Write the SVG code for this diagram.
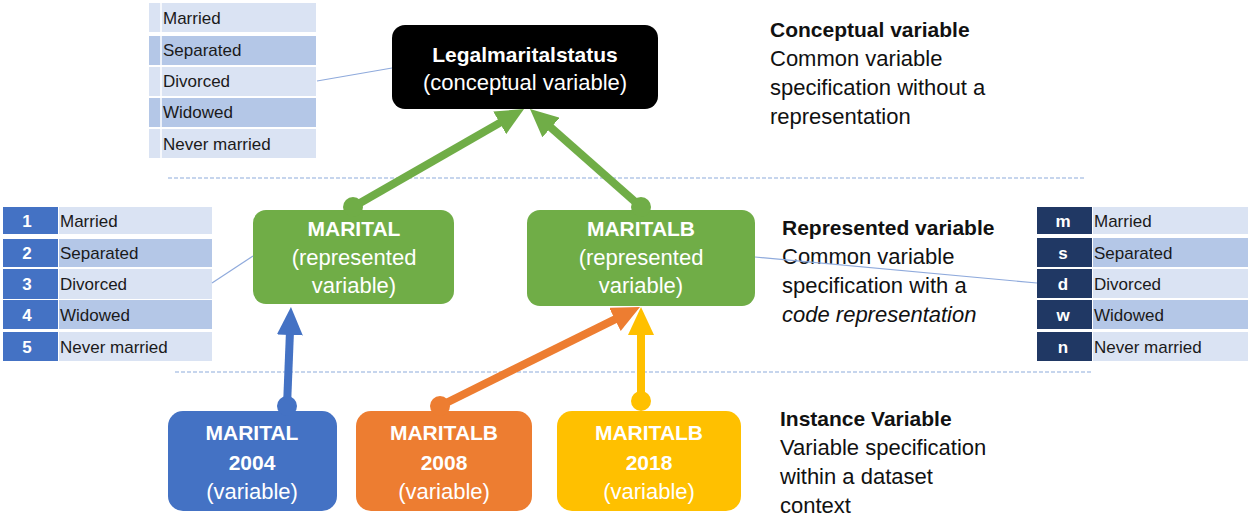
<svg xmlns="http://www.w3.org/2000/svg" width="1248" height="518" viewBox="0 0 1248 518">
  <style>
    .t { font-family: "Liberation Sans", Arial, sans-serif; }
    .cell-l { fill: #DAE3F3; }
    .cell-d { fill: #B4C7E7; }
    .code-b { fill: #4472C4; }
    .code-n { fill: #203864; }
    .cell-txt { font-family: "Liberation Sans", Arial, sans-serif; font-size: 17px; fill: #1a1a1a; }
    .code-txt { font-family: "Liberation Sans", Arial, sans-serif; font-size: 17px; font-weight: bold; fill: #ffffff; text-anchor: middle; }
    .box-txt { font-family: "Liberation Sans", Arial, sans-serif; font-size: 22px; fill: #ffffff; text-anchor: middle; }
    .b { font-weight: bold; font-size: 21px; }
    .side { font-family: "Liberation Sans", Arial, sans-serif; font-size: 22px; fill: #111111; }
    .side-h { font-size: 21px; font-weight: bold; }
    .link { stroke: #8FAADC; stroke-width: 1.2; fill: none; }
    .divider { stroke: #B4C7E7; stroke-width: 1.6; stroke-dasharray: 4 2; fill: none; }
    .arr { stroke-width: 8; fill: none; }
  </style>
  <defs>
    <marker id="head-green" viewBox="0 0 28 26" refX="4" refY="13" markerWidth="28" markerHeight="26" markerUnits="userSpaceOnUse" orient="auto">
      <path d="M0,0 L28,13 L0,26 z" fill="#70AD47"/>
    </marker>
    <marker id="head-blue" viewBox="0 0 28 26" refX="4" refY="13" markerWidth="28" markerHeight="26" markerUnits="userSpaceOnUse" orient="auto">
      <path d="M0,0 L28,13 L0,26 z" fill="#4472C4"/>
    </marker>
    <marker id="head-orange" viewBox="0 0 28 26" refX="4" refY="13" markerWidth="28" markerHeight="26" markerUnits="userSpaceOnUse" orient="auto">
      <path d="M0,0 L28,13 L0,26 z" fill="#ED7D31"/>
    </marker>
    <marker id="head-yellow" viewBox="0 0 28 26" refX="4" refY="13" markerWidth="28" markerHeight="26" markerUnits="userSpaceOnUse" orient="auto">
      <path d="M0,0 L28,13 L0,26 z" fill="#FFC000"/>
    </marker>
  </defs>

  <rect width="1248" height="518" fill="#ffffff"/>

  <!-- level dividers -->
  <line class="divider" x1="168" y1="178" x2="1085" y2="178"/>
  <line class="divider" x1="175" y1="372" x2="1092" y2="372"/>

  <!-- category list of the conceptual variable -->
  <g id="categories-conceptual">
    <rect class="cell-l" x="149" y="3" width="167" height="29"/>
    <rect class="cell-d" x="149" y="36" width="167" height="29"/>
    <rect class="cell-l" x="149" y="67" width="167" height="29"/>
    <rect class="cell-d" x="149" y="98" width="167" height="29"/>
    <rect class="cell-l" x="149" y="129" width="167" height="29"/>
    <g stroke="#ffffff" stroke-width="1.5">
      <line x1="161" y1="3" x2="161" y2="158"/>
    </g>
    <text class="cell-txt" x="163" y="24">Married</text>
    <text class="cell-txt" x="163" y="56">Separated</text>
    <text class="cell-txt" x="163" y="87">Divorced</text>
    <text class="cell-txt" x="163" y="118">Widowed</text>
    <text class="cell-txt" x="163" y="150">Never married</text>
  </g>

  <!-- numeric code list -->
  <g id="codes-numeric">
    <rect class="cell-l" x="59" y="207" width="153" height="27"/>
    <rect class="cell-d" x="59" y="239" width="153" height="28"/>
    <rect class="cell-l" x="59" y="269" width="153" height="30"/>
    <rect class="cell-d" x="59" y="300" width="153" height="29"/>
    <rect class="cell-l" x="59" y="332" width="153" height="29"/>
    <rect class="code-b" x="3" y="207" width="55" height="27"/>
    <rect class="code-b" x="3" y="239" width="55" height="28"/>
    <rect class="code-b" x="3" y="269" width="55" height="30"/>
    <rect class="code-b" x="3" y="300" width="55" height="29"/>
    <rect class="code-b" x="3" y="332" width="55" height="29"/>
    <text class="code-txt" x="27" y="227">1</text>
    <text class="code-txt" x="27" y="259">2</text>
    <text class="code-txt" x="27" y="290">3</text>
    <text class="code-txt" x="27" y="321">4</text>
    <text class="code-txt" x="27" y="353">5</text>
    <text class="cell-txt" x="60" y="227">Married</text>
    <text class="cell-txt" x="60" y="259">Separated</text>
    <text class="cell-txt" x="60" y="290">Divorced</text>
    <text class="cell-txt" x="60" y="321">Widowed</text>
    <text class="cell-txt" x="60" y="353">Never married</text>
  </g>

  <!-- letter code list -->
  <g id="codes-letter">
    <rect class="cell-l" x="1093" y="207" width="155" height="27"/>
    <rect class="cell-d" x="1093" y="238" width="155" height="29"/>
    <rect class="cell-l" x="1093" y="269" width="155" height="29"/>
    <rect class="cell-d" x="1093" y="300" width="155" height="29"/>
    <rect class="cell-l" x="1093" y="332" width="155" height="29"/>
    <rect class="code-n" x="1037" y="207" width="55" height="27"/>
    <rect class="code-n" x="1037" y="238" width="55" height="29"/>
    <rect class="code-n" x="1037" y="269" width="55" height="29"/>
    <rect class="code-n" x="1037" y="300" width="55" height="29"/>
    <rect class="code-n" x="1037" y="332" width="55" height="29"/>
    <text class="code-txt" x="1063" y="227">m</text>
    <text class="code-txt" x="1063" y="259">s</text>
    <text class="code-txt" x="1063" y="290">d</text>
    <text class="code-txt" x="1063" y="321">w</text>
    <text class="code-txt" x="1063" y="353">n</text>
    <text class="cell-txt" x="1094" y="227">Married</text>
    <text class="cell-txt" x="1094" y="259">Separated</text>
    <text class="cell-txt" x="1094" y="290">Divorced</text>
    <text class="cell-txt" x="1094" y="321">Widowed</text>
    <text class="cell-txt" x="1094" y="353">Never married</text>
  </g>

  <!-- conceptual variable -->
  <g id="legalmaritalstatus">
    <rect x="392" y="25" width="266" height="84" rx="13" fill="#000000"/>
    <text class="box-txt b" x="525" y="62">Legalmaritalstatus</text>
    <text class="box-txt" x="525" y="90">(conceptual variable)</text>
  </g>

  <!-- represented variables -->
  <g id="marital-represented">
    <rect x="253" y="210" width="201" height="94" rx="13" fill="#70AD47"/>
    <text class="box-txt b" x="354" y="236">MARITAL</text>
    <text class="box-txt" x="354" y="265">(represented</text>
    <text class="box-txt" x="354" y="293">variable)</text>
  </g>
  <g id="maritalb-represented">
    <rect x="527" y="210" width="228" height="96" rx="13" fill="#70AD47"/>
    <text class="box-txt b" x="641" y="236">MARITALB</text>
    <text class="box-txt" x="641" y="265">(represented</text>
    <text class="box-txt" x="641" y="293">variable)</text>
  </g>

  <!-- instance variables -->
  <g id="marital-2004">
    <rect x="168" y="411" width="169" height="100" rx="15" fill="#4472C4"/>
    <text class="box-txt b" x="252" y="440">MARITAL</text>
    <text class="box-txt b" x="252" y="470">2004</text>
    <text class="box-txt" x="252" y="499">(variable)</text>
  </g>
  <g id="maritalb-2008">
    <rect x="356" y="411" width="176" height="100" rx="15" fill="#ED7D31"/>
    <text class="box-txt b" x="444" y="440">MARITALB</text>
    <text class="box-txt b" x="444" y="470">2008</text>
    <text class="box-txt" x="444" y="499">(variable)</text>
  </g>
  <g id="maritalb-2018">
    <rect x="557" y="411" width="184" height="100" rx="15" fill="#FFC000"/>
    <text class="box-txt b" x="649" y="440">MARITALB</text>
    <text class="box-txt b" x="649" y="470">2018</text>
    <text class="box-txt" x="649" y="499">(variable)</text>
  </g>

  <!-- level descriptions -->
  <g id="legend-conceptual" class="side">
    <text class="side side-h" x="770" y="37">Conceptual variable</text>
    <text class="side" x="770" y="66">Common variable</text>
    <text class="side" x="770" y="95">specification without a</text>
    <text class="side" x="770" y="124">representation</text>
  </g>
  <g id="legend-represented">
    <text class="side side-h" x="782" y="235">Represented variable</text>
    <text class="side" x="782" y="264">Common variable</text>
    <text class="side" x="782" y="293">specification with a</text>
    <text class="side" x="782" y="322" font-style="italic">code representation</text>
  </g>
  <g id="legend-instance">
    <text class="side side-h" x="780" y="426">Instance Variable</text>
    <text class="side" x="780" y="455">Variable specification</text>
    <text class="side" x="780" y="484">within a dataset</text>
    <text class="side" x="780" y="513">context</text>
  </g>

  <!-- connectors -->
  <g id="connectors">
    <line class="link" x1="317" y1="81" x2="392" y2="68"/>
    <line class="link" x1="212" y1="283" x2="253" y2="256"/>
    <line class="link" x1="755" y1="257" x2="1037" y2="283"/>

    <line class="arr" stroke="#70AD47" x1="353" y1="207" x2="503.2" y2="120.9" marker-end="url(#head-green)"/>
    <circle cx="353" cy="207" r="10" fill="#70AD47"/>
    <line class="arr" stroke="#70AD47" x1="641" y1="207" x2="548.0" y2="124.9" marker-end="url(#head-green)"/>
    <circle cx="641" cy="207" r="10" fill="#70AD47"/>

    <line class="arr" stroke="#4472C4" x1="287" y1="406" x2="290.0" y2="331.0" marker-end="url(#head-blue)"/>
    <circle cx="287" cy="406" r="10" fill="#4472C4"/>
    <line class="arr" stroke="#ED7D31" x1="440" y1="406" x2="618.5" y2="317.6" marker-end="url(#head-orange)"/>
    <circle cx="440" cy="406" r="10" fill="#ED7D31"/>
    <line class="arr" stroke="#FFC000" x1="641" y1="401" x2="641" y2="331" marker-end="url(#head-yellow)"/>
    <circle cx="641" cy="401" r="10" fill="#FFC000"/>
  </g>
</svg>
